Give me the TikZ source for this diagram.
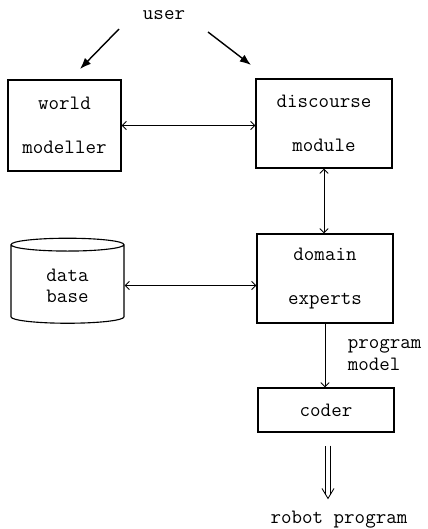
\documentclass[tikz,border=0pt]{standalone}
\usetikzlibrary{arrows.meta}
\usetikzlibrary{calc}
\usetikzlibrary{shapes.geometric}

\begin{document}
\begin{tikzpicture}[x=0.025cm, y=-0.025cm,
                    every node/.style={font=\ttfamily\fontsize{14.5}{15}\selectfont},
                    box/.style={draw, line width=0.8pt, align=center,
                                font=\ttfamily\fontsize{14.5}{31}\selectfont}]
	\useasboundingbox (0,0) rectangle (428,529);

	% modules
	\node (user) at (164,15) {user};
	\node[box, minimum width=2.825cm, minimum height=2.275cm] (world) at (64.5,125.5) {world\\modeller};
	\node[box, minimum width=3.4cm, minimum height=2.225cm] (disc) at (324,123.5) {discourse\\module};
	\node[box, minimum width=3.4cm, minimum height=2.225cm] (dom) at (325,278.5) {domain\\experts};
	\node[box, minimum width=3.4cm, minimum height=1.1cm] (coder) at (326,410) {coder};
	\node[draw, cylinder, shape border rotate=90, aspect=0.25, line width=0.8pt, align=center,
	      minimum width=2.825cm, minimum height=2.125cm] (db) at (67.5,285.5) {data\\base};
	\node[anchor=west, align=left] (pm) at (343,355) {program\\model};
	\node (robot) at (339,520) {robot program};

	% input from the user
	\coordinate (uw0) at (119,29);
	\coordinate (uw) at (80,69);
	\coordinate (ud0) at (208,32);
	\coordinate (ud) at (251,65);
	\begin{scope}[line width=1pt, >={Latex[length=8pt, width=6pt]}]
		\draw[->] (uw0) -- (uw);
		\draw[->] (ud0) -- (ud);
	\end{scope}

	% links between modules
	\begin{scope}[line width=0.6pt, >={Straight Barb[length=3pt]}]
		\draw[<->] (world.east) -- (world.east -| disc.west);
		\draw[<->] (db.east) -- (db.east -| dom.west);
		\draw[<->] (disc.south) -- (disc.south |- dom.north);
		\draw[->] (dom.south) -- (dom.south |- coder.north);
	\end{scope}

	% output: double shaft with an open head
	\coordinate (out) at ($(coder.south |- robot.north)+(2,-8)$);
	\draw[double, double distance=2.5pt, line width=0.6pt, shorten <=0.325cm, shorten >=0.08cm]
		(coder.south -| out) -- (out);
	\draw[line width=0.6pt] ($(out)+(-6,-10)$) -- (out) -- ++(6,-10);
\end{tikzpicture}
\end{document}
